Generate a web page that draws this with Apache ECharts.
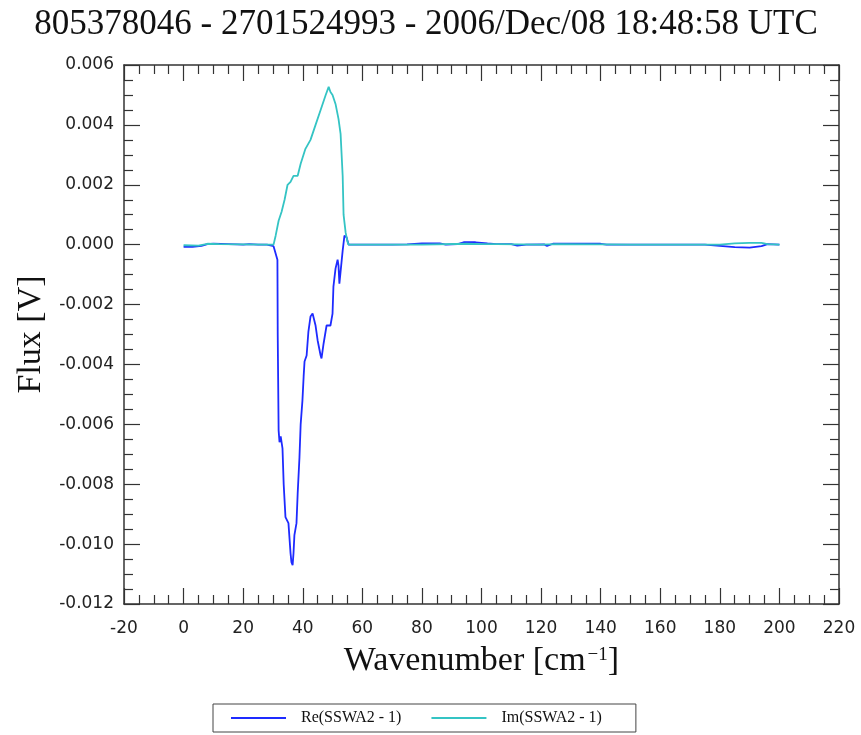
<!DOCTYPE html>
<html>
<head>
<meta charset="utf-8">
<script src="https://cdn.jsdelivr.net/npm/echarts@6/dist/echarts.min.js"></script>
<style>html,body{margin:0;padding:0;background:#fff;}#c{width:861px;height:735px;}</style>
</head>
<body>
<div id="c"></div>
<script>
// ---- data ----
const titleText = '805378046 - 2701524993 - 2006/Dec/08 18:48:58 UTC';
const seriesNames = ['Re(SSWA2 - 1)', 'Im(SSWA2 - 1)'];
const xTicks = { min: -20, max: 220, step: 20 };
const yTicks = { min: -0.012, max: 0.006, step: 0.002 };

// [wavenumber, flux]
const reData = [
  [0,-0.00007],[3,-0.00007],[6,-0.00004],[8,0.00002],[10,0.00003],[15,0.00002],[18,0.00001],[20,0],[22,0.00002],[25,0],[28,0],[30.2,-0.00005],
  [31.5,-0.0005],[31.6,-0.003],[31.9,-0.0062],[32.2,-0.0066],[32.6,-0.0064],[33.2,-0.0068],[33.6,-0.0080],[34.2,-0.0091],[35.2,-0.0093],
  [35.9,-0.0103],[36.2,-0.0106],[36.6,-0.0107],[36.9,-0.0103],[37.2,-0.0097],[37.9,-0.0093],[38.3,-0.0083],[38.9,-0.0071],[39.3,-0.0060],
  [39.9,-0.0052],[40.3,-0.0044],[40.6,-0.0039],[41.3,-0.0037],[41.9,-0.0029],[42.6,-0.0024],[43.3,-0.0023],[44.3,-0.0027],[45.0,-0.0032],
  [46.0,-0.0037],[46.3,-0.0038],[47.0,-0.0033],[48.0,-0.0027],[49.3,-0.0027],[50.0,-0.0023],[50.3,-0.0014],[51.0,-0.0008],[51.7,-0.0005],
  [52.0,-0.0007],[52.3,-0.0013],[53.0,-0.0006],[53.4,-0.0002],[54.0,0.0003],[54.7,0.00025],[55.4,0],
  [60,0],[70,0],[75,0.00001],[80,0.00004],[86,0.00004],[88,0],[92,0.00002],[94,0.00008],[98,0.00008],[102,0.00004],[105,0.00002],
  [110,0.00002],[112,-0.00003],[115,0],[121,0.00001],[122,-0.00004],[124,0.00003],[140,0.00003],[142,0],[160,0],[175,0],
  [180,-0.00004],[185,-0.00008],[190,-0.0001],[194,-0.00005],[196,0.00002],[200,0]
];
const imData = [
  [0,-0.00002],[5,-0.00003],[8,0.00003],[12,0.00002],[20,0.00001],[28,0],[30.2,0],
  [30.9,0.0003],[31.9,0.0008],[32.9,0.0011],[33.9,0.0015],[34.9,0.0020],[35.9,0.0021],[36.9,0.0023],[38.3,0.0023],[39.3,0.0027],
  [40.9,0.0032],[42.6,0.0035],[44.3,0.0040],[46.0,0.0045],[47.7,0.0050],[48.7,0.00527],[49.3,0.0051],[50.0,0.0050],[51.0,0.0047],
  [52.0,0.0042],[52.7,0.0037],[53.4,0.0023],[53.7,0.0010],[54.4,0.0004],[55.0,0.0001],[55.4,0],
  [60,0],[80,0],[95,0.00003],[100,0.00002],[105,0.00002],[120,0],[125,0.00002],[140,0.00001],[150,0],[180,0],
  [185,0.00004],[190,0.00006],[194,0.00006],[196,0.00002],[200,0]
];
const colors = ['#1e2bff', '#34c4c4'];

// ---- chart ----
const chart = echarts.init(document.getElementById('c'), null, { renderer: 'canvas' });
const lblFont = { fontFamily: 'DejaVu Sans', fontSize: 17, color: '#222' };
const axisLineStyle = { lineStyle: { color: '#333', width: 1.5 } };
function xAxisDef(pos, showLabel) {
  return {
    type: 'value', position: pos, min: xTicks.min, max: xTicks.max, interval: xTicks.step,
    axisLine: { show: true, onZero: false, ...axisLineStyle },
    axisTick: { show: true, inside: true, length: 16, lineStyle: { color: '#333', width: 1.2 } },
    minorTick: { show: true, splitNumber: 4, length: 9, lineStyle: { color: '#333', width: 1.2 } },
    splitLine: { show: false },
    axisLabel: { show: showLabel, margin: 16, ...lblFont }
  };
}
function yAxisDef(pos, showLabel) {
  return {
    type: 'value', position: pos, min: yTicks.min, max: yTicks.max, interval: yTicks.step,
    axisLine: { show: true, onZero: false, ...axisLineStyle },
    axisTick: { show: true, inside: true, length: 16, lineStyle: { color: '#333', width: 1.2 } },
    minorTick: { show: true, splitNumber: 4, length: 9, lineStyle: { color: '#333', width: 1.2 } },
    splitLine: { show: false },
    axisLabel: { show: showLabel, margin: 10, ...lblFont,
      formatter: v => (Math.abs(v) < 1e-9 ? 0 : v).toFixed(3) }
  };
}
const xb = xAxisDef('bottom', true);
xb.name = '{a|Wavenumber [cm}{s|−1}{a|]}';
xb.nameLocation = 'middle';
xb.nameGap = 40;
xb.nameTextStyle = {
  rich: {
    a: { fontFamily: 'Liberation Serif', fontSize: 34, color: '#111' },
    s: { fontFamily: 'Liberation Serif', fontSize: 19, color: '#111', verticalAlign: 'top', padding: [2, 0, 0, 2] }
  }
};
const yl = yAxisDef('left', true);
yl.name = 'Flux [V]';
yl.nameLocation = 'middle';
yl.nameGap = 76;
yl.nameTextStyle = { fontFamily: 'Liberation Serif', fontSize: 34, color: '#111' };

chart.setOption({
  animation: false,
  backgroundColor: '#fff',
  title: {
    text: titleText, left: 421, top: 2, textAlign: 'center',
    textStyle: { fontFamily: 'Liberation Serif', fontSize: 35, fontWeight: 'normal', color: '#111' }
  },
  grid: { left: 124, right: 22, top: 65, bottom: 131, containLabel: false },
  legend: {
    data: seriesNames, left: 213, top: 704, orient: 'horizontal',
    padding: [6, 34, 6, 18], itemGap: 30, itemWidth: 55, itemHeight: 2, icon: 'rect',
    borderColor: '#444', borderWidth: 1,
    formatter: name => '{t|' + name + '}',
    textStyle: { fontFamily: 'Liberation Serif', fontSize: 16, color: '#111',
      rich: { t: { fontFamily: 'Liberation Serif', fontSize: 16, color: '#111', padding: [0, 0, 0, 10] } } }
  },
  xAxis: [xb, xAxisDef('top', false)],
  yAxis: [yl, yAxisDef('right', false)],
  series: [
    { name: seriesNames[0], type: 'line', data: reData, xAxisIndex: 0, yAxisIndex: 0, showSymbol: false, symbol: 'none',
      lineStyle: { color: colors[0], width: 1.8 }, itemStyle: { color: colors[0] } },
    { name: seriesNames[1], type: 'line', data: imData, xAxisIndex: 0, yAxisIndex: 0, showSymbol: false, symbol: 'none',
      lineStyle: { color: colors[1], width: 1.8 }, itemStyle: { color: colors[1] } }
  ]
});
</script>
</body>
</html>
